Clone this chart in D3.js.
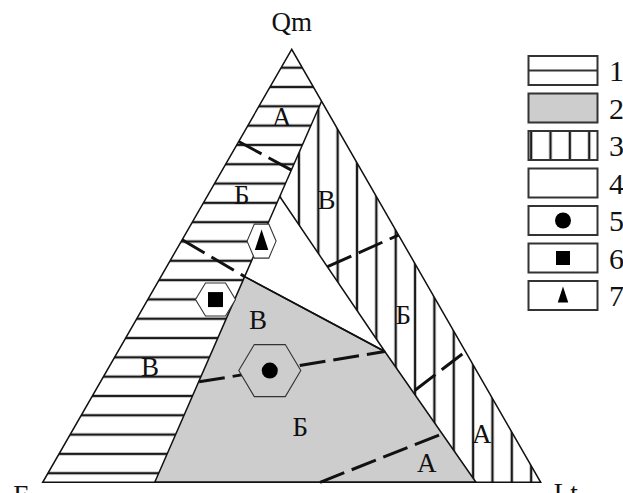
<!DOCTYPE html>
<html>
<head>
<meta charset="utf-8">
<script src="https://cdn.jsdelivr.net/npm/d3@7"></script>
<style>
  body { margin: 0; background: #fff; }
  svg text { font-family: "Liberation Serif", "DejaVu Serif", serif; fill: #111; }
</style>
</head>
<body>
<div id="chart"></div>
<script>
// ternary compositions, percent: qm, f, lt
const corners = [
  {name: 'Qm', qm: 100, f: 0, lt: 0},
  {name: 'F', qm: 0, f: 100, lt: 0},
  {name: 'Lt', qm: 0, f: 0, lt: 100}
];

// field 1 - horizontal hatch (left)
const field1 = [[100, 0, 0], [88, 0, 12], [66, 19.4, 14.6], [47.5, 35.7, 16.8], [0, 77.5, 22.5], [0, 100, 0]];
// field 4 - white
const field4 = [[66, 19.4, 14.6], [30.2, 16.2, 53.6], [47.5, 35.7, 16.8]];
// field 2 - gray
const field2 = [[47.5, 35.7, 16.8], [30.2, 16.2, 53.6], [0, 13, 87], [0, 77.5, 22.5]];
// field 3 - vertical hatch (right)
const field3 = [[88, 0, 12], [0, 0, 100], [0, 13, 87], [30.2, 16.2, 53.6], [66, 19.4, 14.6]];

// dashed sub-boundaries
const dashLines = [
  [[78.7, 21.3, 0], [72.1, 14.0, 13.9]],
  [[56.0, 44.0, 0], [47.5, 35.7, 16.8]],
  [[49.8, 17.9, 32.3], [57.1, 0, 42.9]],
  [[21.2, 14.7, 64.1], [30.2, 0, 69.8]],
  [[23.2, 57.0, 19.8], [30.2, 16.2, 53.6]],
  [[0, 44.3, 55.7], [11.2, 14.2, 74.6]]
];

const fieldLabels = [
  {text: 'А', qm: 84.4, f: 9.8, lt: 5.8},
  {text: 'Б', qm: 66.3, f: 26.9, lt: 6.8},
  {text: 'В', qm: 65.2, f: 10.4, lt: 24.4},
  {text: 'В', qm: 37.5, f: 38.0, lt: 24.5},
  {text: 'В', qm: 26.7, f: 65.1, lt: 8.2},
  {text: 'Б', qm: 12.8, f: 41.9, lt: 45.3},
  {text: 'Б', qm: 38.6, f: 8.3, lt: 53.1},
  {text: 'А', qm: 11.3, f: 6.2, lt: 82.5},
  {text: 'А', qm: 4.4, f: 20.7, lt: 74.9}
];

// sample points with their hexagon sizes
const samples = [
  {type: 'circle', qm: 25.8, f: 41.5, lt: 32.7, hw: 62, hh: 52, fill: '#cdcdcd'},
  {type: 'square', qm: 42.2, f: 44.2, lt: 13.6, hw: 40, hh: 33, fill: '#fff'},
  {type: 'triangle', qm: 55.7, f: 28.2, lt: 16.1, hw: 29, hh: 34, fill: '#fff'}
];

const legendLabels = ['1', '2', '3', '4', '5', '6', '7'];
const legendKinds = ['hatchH', 'gray', 'hatchV', 'white', 'circle', 'square', 'triangle'];

const W = 623, H = 493;
const svg = d3.select('#chart').append('svg')
  .attr('width', W).attr('height', H);

const x = d3.scaleLinear().domain([0, 1]).range([42.7, 540.7]);
const y = d3.scaleLinear().domain([0, 1]).range([482.3, 49.3]);

function proj(qm, f, lt) {
  const s = qm + f + lt;
  return [x(lt / s + qm / s / 2), y(qm / s)];
}
const line = d3.line();
const polyPath = pts => line(pts.map(p => proj(p[0], p[1], p[2]))) + 'Z';

// patterns
const defs = svg.append('defs');
const hStep = 19.31, vStep = 19.35;
defs.append('pattern').attr('id', 'hatchH')
  .attr('patternUnits', 'userSpaceOnUse')
  .attr('x', 0).attr('y', 67.7 - hStep / 2)
  .attr('width', 20).attr('height', hStep)
  .append('line').attr('x1', -1).attr('x2', 21)
  .attr('y1', hStep / 2).attr('y2', hStep / 2)
  .attr('stroke', '#1a1a1a').attr('stroke-width', 2.4);
defs.append('pattern').attr('id', 'hatchV')
  .attr('patternUnits', 'userSpaceOnUse')
  .attr('x', 318.3 - vStep / 2).attr('y', 0)
  .attr('width', vStep).attr('height', 20)
  .append('line').attr('y1', -1).attr('y2', 21)
  .attr('x1', vStep / 2).attr('x2', vStep / 2)
  .attr('stroke', '#1a1a1a').attr('stroke-width', 2.4);

const g = svg.append('g');

g.append('path').attr('d', polyPath(field1)).attr('fill', 'url(#hatchH)');
g.append('path').attr('d', polyPath(field3)).attr('fill', 'url(#hatchV)');
g.append('path').attr('d', polyPath(field4)).attr('fill', '#fff');
g.append('path').attr('d', polyPath(field2)).attr('fill', '#cdcdcd');

// field boundaries
[field4, field2].forEach(f => {
  g.append('path').attr('d', polyPath(f))
    .attr('fill', 'none').attr('stroke', '#111').attr('stroke-width', 1.5)
    .attr('stroke-linejoin', 'round');
});
g.append('path')
  .attr('d', line([proj(88, 0, 12), proj(66, 19.4, 14.6)]))
  .attr('stroke', '#111').attr('stroke-width', 1.5);

// dashed lines
g.selectAll('.dash').data(dashLines).enter().append('path')
  .attr('class', 'dash')
  .attr('d', d => line(d.map(p => proj(p[0], p[1], p[2]))))
  .attr('fill', 'none').attr('stroke', '#111')
  .attr('stroke-width', 3).attr('stroke-dasharray', '26,8');

// outer triangle
g.append('path')
  .attr('d', line(corners.map(c => proj(c.qm, c.f, c.lt))) + 'Z')
  .attr('fill', 'none').attr('stroke', '#111').attr('stroke-width', 1.5)
  .attr('stroke-linejoin', 'miter');

// corner labels
const cornerPos = {Qm: [0, -18], F: [-22, 22], Lt: [25, 20]};
g.selectAll('.corner').data(corners).enter().append('text')
  .attr('class', 'corner')
  .attr('x', d => proj(d.qm, d.f, d.lt)[0] + cornerPos[d.name][0])
  .attr('y', d => proj(d.qm, d.f, d.lt)[1] + cornerPos[d.name][1])
  .attr('text-anchor', 'middle')
  .attr('font-size', 27)
  .text(d => d.name);

// field labels
g.selectAll('.flab').data(fieldLabels).enter().append('text')
  .attr('class', 'flab')
  .attr('x', d => proj(d.qm, d.f, d.lt)[0])
  .attr('y', d => proj(d.qm, d.f, d.lt)[1])
  .attr('dy', '0.34em')
  .attr('text-anchor', 'middle')
  .attr('font-size', 27)
  .text(d => d.text);

function hexPts(cx, cy, w, h) {
  return [[cx - w / 2, cy], [cx - w / 4, cy - h / 2], [cx + w / 4, cy - h / 2],
          [cx + w / 2, cy], [cx + w / 4, cy + h / 2], [cx - w / 4, cy + h / 2]];
}
function marker(sel, type, cx, cy, size) {
  if (type === 'circle') {
    sel.append('circle').attr('cx', cx).attr('cy', cy).attr('r', size).attr('fill', '#000');
  } else if (type === 'square') {
    sel.append('rect').attr('x', cx - size).attr('y', cy - size)
      .attr('width', size * 2).attr('height', size * 2).attr('fill', '#000');
  } else {
    sel.append('path')
      .attr('d', line([[cx, cy - size * 1.3], [cx + size * 0.75, cy + size], [cx - size * 0.75, cy + size]]) + 'Z')
      .attr('fill', '#000');
  }
}

samples.forEach(s => {
  const [cx, cy] = proj(s.qm, s.f, s.lt);
  g.append('path').attr('d', line(hexPts(cx, cy, s.hw, s.hh)) + 'Z')
    .attr('fill', s.fill).attr('stroke', '#333').attr('stroke-width', 1.1);
  marker(g, s.type, cx, cy, s.type === 'circle' ? 8 : s.type === 'square' ? 7.5 : 9);
});

// legend
const lx = 528.5, lw = 69, lh = 29, ly0 = 56, lstep = 37.5;
const leg = svg.append('g');
legendLabels.forEach((lab, i) => {
  const top = ly0 + i * lstep;
  const kind = legendKinds[i];
  const fill = kind === 'gray' ? '#cdcdcd' : kind === 'hatchV' ? 'url(#hatchV)' : '#fff';
  leg.append('rect').attr('x', lx).attr('y', top).attr('width', lw).attr('height', lh)
    .attr('fill', fill).attr('stroke', '#333').attr('stroke-width', 2);
  if (kind === 'hatchH') {
    leg.append('line').attr('x1', lx).attr('x2', lx + lw)
      .attr('y1', top + lh / 2).attr('y2', top + lh / 2)
      .attr('stroke', '#333').attr('stroke-width', 2);
  }
  if (kind === 'circle' || kind === 'square' || kind === 'triangle') {
    marker(leg, kind, lx + lw / 2, top + lh / 2, kind === 'circle' ? 8 : 7);
  }
  leg.append('text').attr('x', 609).attr('y', top + lh / 2)
    .attr('dy', '0.36em').attr('font-size', 30).text(lab);
});
</script>
</body>
</html>
